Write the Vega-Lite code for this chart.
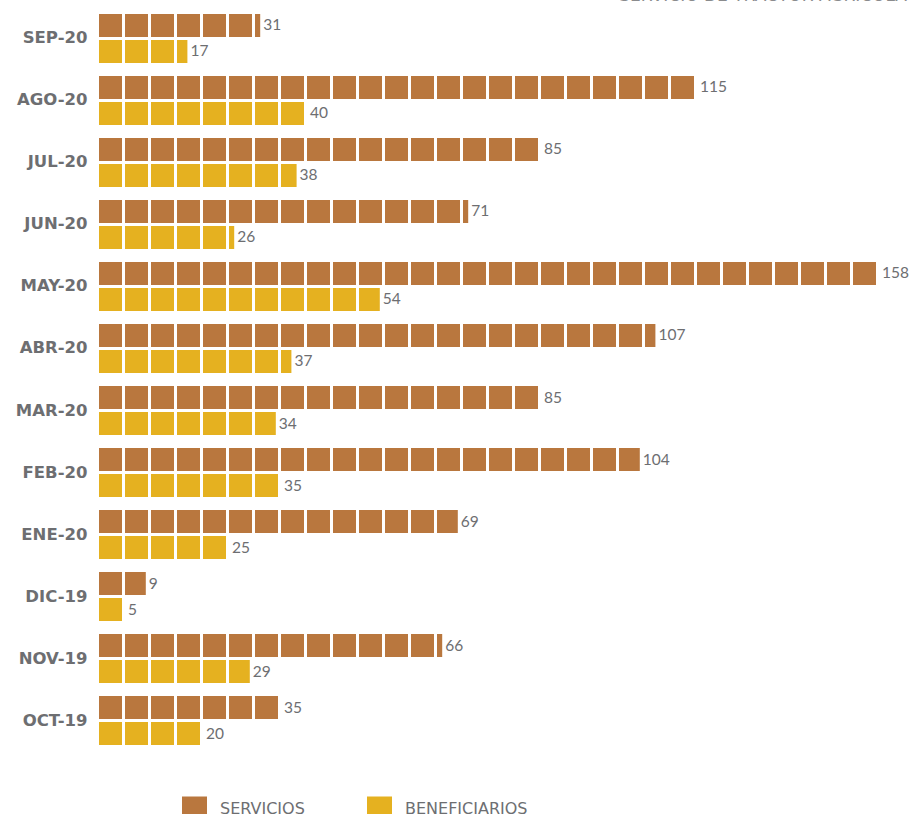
{
  "$schema": "https://vega.github.io/schema/vega-lite/v6.json",
  "autosize": {"type": "none"},
  "width": 780,
  "height": 744,
  "padding": {"left": 99, "top": 7.5, "right": 30, "bottom": 62.5},
  "background": "white",
  "title": {
    "text": "SERVICIO DE TRACTOR AGRÍCOLA",
    "anchor": "end",
    "frame": "group",
    "baseline": "alphabetic",
    "offset": 0,
    "dy": 10.5,
    "dx": 28,
    "font": "DejaVu Sans",
    "fontSize": 17,
    "fontWeight": "normal",
    "color": "#8a8b8d"
  },
  "data": {
    "values": [
      {"mes": "SEP-20", "serie": "SERVICIOS", "valor": 31},
      {"mes": "SEP-20", "serie": "BENEFICIARIOS", "valor": 17},
      {"mes": "AGO-20", "serie": "SERVICIOS", "valor": 115},
      {"mes": "AGO-20", "serie": "BENEFICIARIOS", "valor": 40},
      {"mes": "JUL-20", "serie": "SERVICIOS", "valor": 85},
      {"mes": "JUL-20", "serie": "BENEFICIARIOS", "valor": 38},
      {"mes": "JUN-20", "serie": "SERVICIOS", "valor": 71},
      {"mes": "JUN-20", "serie": "BENEFICIARIOS", "valor": 26},
      {"mes": "MAY-20", "serie": "SERVICIOS", "valor": 158},
      {"mes": "MAY-20", "serie": "BENEFICIARIOS", "valor": 54},
      {"mes": "ABR-20", "serie": "SERVICIOS", "valor": 107},
      {"mes": "ABR-20", "serie": "BENEFICIARIOS", "valor": 37},
      {"mes": "MAR-20", "serie": "SERVICIOS", "valor": 85},
      {"mes": "MAR-20", "serie": "BENEFICIARIOS", "valor": 34},
      {"mes": "FEB-20", "serie": "SERVICIOS", "valor": 104},
      {"mes": "FEB-20", "serie": "BENEFICIARIOS", "valor": 35},
      {"mes": "ENE-20", "serie": "SERVICIOS", "valor": 69},
      {"mes": "ENE-20", "serie": "BENEFICIARIOS", "valor": 25},
      {"mes": "DIC-19", "serie": "SERVICIOS", "valor": 9},
      {"mes": "DIC-19", "serie": "BENEFICIARIOS", "valor": 5},
      {"mes": "NOV-19", "serie": "SERVICIOS", "valor": 66},
      {"mes": "NOV-19", "serie": "BENEFICIARIOS", "valor": 29},
      {"mes": "OCT-19", "serie": "SERVICIOS", "valor": 35},
      {"mes": "OCT-19", "serie": "BENEFICIARIOS", "valor": 20}
    ]
  },
  "encoding": {
    "y": {
      "field": "mes",
      "type": "nominal",
      "sort": null,
      "scale": {"paddingInner": 0.2097, "paddingOuter": 0.1048},
      "axis": {
        "title": null,
        "domain": false,
        "ticks": false,
        "labelPadding": 12,
        "labelFont": "DejaVu Sans",
        "labelFontWeight": 600,
        "labelFontSize": 16.5,
        "labelColor": "#6d6e71"
      }
    },
    "yOffset": {
      "field": "serie",
      "type": "nominal",
      "sort": ["SERVICIOS", "BENEFICIARIOS"],
      "scale": {"paddingInner": 0.1154, "paddingOuter": 0}
    },
    "x": {
      "field": "valor",
      "type": "quantitative",
      "scale": {"domain": [0, 150], "clamp": true, "nice": false, "zero": true},
      "axis": null
    }
  },
  "layer": [
    {
      "mark": {
        "type": "rule",
        "strokeWidth": 23,
        "strokeCap": "butt",
        "strokeDash": [23, 3],
        "strokeDashOffset": {"expr": "-scale('x', datum.valor) - 3"}
      },
      "encoding": {
        "x2": {"datum": 0},
        "color": {
          "field": "serie",
          "type": "nominal",
          "sort": ["SERVICIOS", "BENEFICIARIOS"],
          "scale": {"domain": ["SERVICIOS", "BENEFICIARIOS"], "range": ["#b9773e", "#e5b120"]},
          "legend": {
            "title": null,
            "orient": "none",
            "direction": "horizontal",
            "legendX": 83,
            "legendY": 789,
            "padding": 0,
            "symbolType": "square",
            "symbolSize": 625,
            "symbolStrokeWidth": 0,
            "labelOffset": 13,
            "columnPadding": 62,
            "labelFont": "DejaVu Sans",
            "labelFontSize": 16,
            "labelColor": "#6d6e71",
            "encode": {
              "symbols": {
                "update": {
                  "fill": {"scale": "color", "field": "value"},
                  "strokeWidth": {"value": 0}
                }
              }
            }
          }
        }
      }
    },
    {
      "mark": {
        "type": "text",
        "align": "left",
        "baseline": "middle",
        "dx": 3,
        "font": "Lato",
        "fontSize": 15.5,
        "color": "#6d6e71"
      },
      "encoding": {
        "text": {"field": "valor", "type": "quantitative"}
      }
    }
  ],
  "config": {
    "view": {"stroke": null}
  }
}
